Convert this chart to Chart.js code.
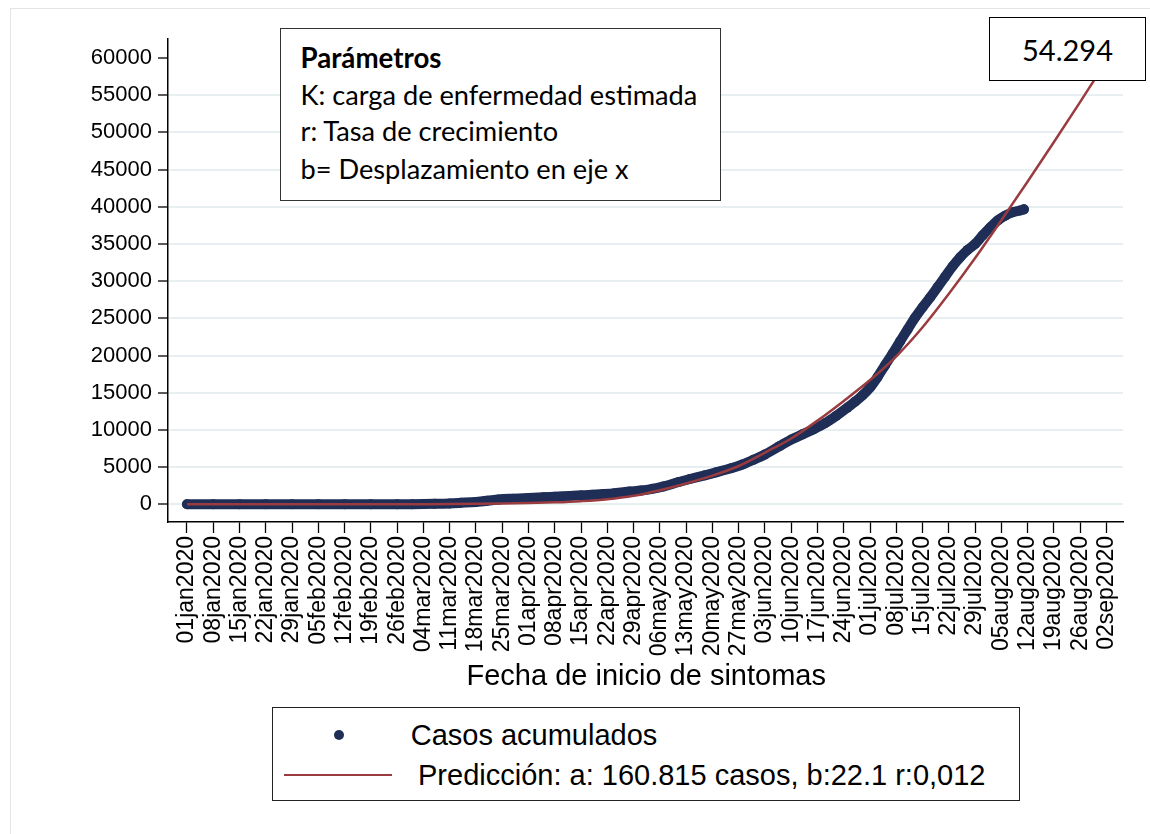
<!DOCTYPE html>
<html>
<head>
<meta charset="utf-8">
<script src="https://cdn.jsdelivr.net/npm/chart.js@4.4.0/dist/chart.umd.min.js"></script>
<style>
  html, body { margin: 0; padding: 0; background: #fff; }
  #wrap { position: relative; width: 1150px; height: 834px; overflow: hidden; font-family: "Liberation Sans", Arial, sans-serif; color: #000; }
  #frame { position: absolute; left: 10px; top: 8px; width: 1200px; height: 900px; border: 1px solid #e4e4e4; }
  canvas { position: absolute; left: 0; top: 0; }
  .box { position: absolute; background: #fff; box-sizing: border-box; }
  .txt { position: absolute; white-space: nowrap; }
  #params { left: 280px; top: 28px; width: 441px; height: 173px; border: 1.5px solid #333; font-family: Lato, sans-serif; font-size: 25px; }
  #params .txt { left: 19.5px; line-height: 30px; }
  #label { left: 989px; top: 17px; width: 157px; height: 64px; border: 1.5px solid #000; font-family: Lato, sans-serif; font-size: 29px; display: flex; align-items: center; justify-content: center; }
  #legend { left: 271.5px; top: 707px; width: 748.5px; height: 93.5px; border: 1.5px solid #222; }
  .leg { font-size: 29px; line-height: 30px; }
  #xtitle { font-size: 29px; line-height: 30px; left: 466.5px; top: 660px; }
</style>
</head>
<body>
<div id="wrap">
  <div id="frame"></div>
  <canvas id="chart" width="1150" height="834"></canvas>
  <div class="box" id="params">
    <div class="txt" id="p0" style="top:13.8px;font-weight:bold;font-size:27px">Parámetros</div>
    <div class="txt" id="p1" style="top:50.5px">K: carga de enfermedad estimada</div>
    <div class="txt" id="p2" style="top:87.2px">r: Tasa de crecimiento</div>
    <div class="txt" id="p3" style="top:124.8px">b= Desplazamiento en eje x</div>
  </div>
  <div class="box" id="label">54.294</div>
  <div class="box" id="legend"></div>
  <div style="position:absolute;left:334px;top:729.5px;width:10px;height:10px;border-radius:50%;background:#1f2e57"></div>
  <div style="position:absolute;left:284px;top:773.7px;width:108px;height:2.6px;background:#9a3b3f"></div>
  <div class="txt leg" style="left:410.7px;top:720px">Casos acumulados</div>
  <div class="txt leg" style="left:418px;top:760px">Predicción: a: 160.815 casos, b:22.1 r:0,012</div>
  <div class="txt" id="xtitle">Fecha de inicio de sintomas</div>
</div>
<script>
// days counted from 01jan2020
const tickDays = [0, 7, 14, 21, 28, 35, 42, 49, 56, 63, 70, 77, 84, 91, 98, 105, 112, 119,
  126, 133, 140, 147, 154, 161, 168, 175, 182, 189, 196, 203, 210, 217, 224, 231, 238, 245];
const tickLabels = ['01jan2020', '08jan2020', '15jan2020', '22jan2020', '29jan2020', '05feb2020',
  '12feb2020', '19feb2020', '26feb2020', '04mar2020', '11mar2020', '18mar2020', '25mar2020',
  '01apr2020', '08apr2020', '15apr2020', '22apr2020', '29apr2020', '06may2020', '13may2020',
  '20may2020', '27may2020', '03jun2020', '10jun2020', '17jun2020', '24jun2020', '01jul2020',
  '08jul2020', '15jul2020', '22jul2020', '29jul2020', '05aug2020', '12aug2020', '19aug2020',
  '26aug2020', '02sep2020'];
const yTicks = [0, 5000, 10000, 15000, 20000, 25000, 30000, 35000, 40000, 45000, 50000, 55000, 60000];

// Casos acumulados (observed)
const caseDays = [0, 7, 14, 21, 28, 35, 42, 49, 56, 60, 63, 66, 70, 73, 77, 80, 83, 87, 91, 95,
  98, 102, 105, 108, 111, 114, 118, 121, 124, 127, 131, 134, 138, 141, 145, 148, 151, 154, 158,
  161, 164, 167, 170, 173, 176, 178, 180, 182, 184, 186, 188, 190, 192, 194, 196, 198, 200, 202,
  204, 206, 208, 210, 212, 214, 216, 218, 220, 222, 223];
const caseValues = [0, 0, 0, 0, 0, 0, 0, 0, 0, 10, 30, 60, 120, 200, 320, 470, 650, 760, 850, 940,
  1020, 1120, 1200, 1280, 1380, 1500, 1710, 1850, 2080, 2400, 3000, 3400, 3900, 4300, 4850, 5350,
  6000, 6700, 7850, 8700, 9400, 10100, 10900, 11900, 13000, 13800, 14650, 15700, 17100, 18700,
  20250, 21900, 23500, 25100, 26500, 27800, 29200, 30600, 32000, 33200, 34200, 35000, 36150,
  37200, 38150, 38800, 39250, 39500, 39650];

// Predicción
const predDays = [0, 7, 14, 21, 28, 35, 42, 49, 56, 63, 70, 77, 84, 91, 98, 105, 112, 119, 126,
  133, 140, 147, 154, 161, 168, 175, 182, 189, 196, 203, 210, 217, 224, 231, 238, 245];
const predValues = [0, 0, 0, 0, 0, 0, 0, 0, 5, 15, 30, 60, 100, 160, 260, 420, 680, 1150, 1900,
  2800, 3850, 5150, 6950, 8850, 11250, 13900, 16700, 19900, 23800, 28300, 33100, 38200, 43400,
  48700, 54100, 59600];

const BLUE = '#1f2e57';
const RED = '#9a3b3f';
const yFont = { family: '"Liberation Sans", Arial, sans-serif', size: 22 };
const xFont = { family: '"Liberation Sans", Arial, sans-serif', size: 23 };

// scale the annotation text so its width matches the original box layout
function fitWidth(el, target) {
  const size = parseFloat(getComputedStyle(el).fontSize);
  const w = el.getBoundingClientRect().width;
  if (w > 0) el.style.fontSize = (size * target / w).toFixed(2) + 'px';
}
fitWidth(document.getElementById('p0'), 141);
const p1 = document.getElementById('p1');
fitWidth(p1, 397);
['p2', 'p3'].forEach(id => { document.getElementById(id).style.fontSize = p1.style.fontSize; });

new Chart(document.getElementById('chart'), {
  type: 'line',
  data: {
    datasets: [{
      label: 'Casos acumulados',
      data: caseDays.map((d, i) => ({ x: d, y: caseValues[i] })),
      borderColor: BLUE,
      backgroundColor: BLUE,
      borderWidth: 10,
      borderCapStyle: 'round',
      borderJoinStyle: 'round',
      pointRadius: 5,
      pointHoverRadius: 5,
      pointBorderWidth: 0,
      cubicInterpolationMode: 'monotone',
      order: 2
    }, {
      label: 'Predicción',
      data: predDays.map((d, i) => ({ x: d, y: predValues[i] })),
      borderColor: RED,
      borderWidth: 2.5,
      pointRadius: 0,
      cubicInterpolationMode: 'monotone',
      order: 1
    }]
  },
  options: {
    responsive: false,
    animation: false,
    layout: { padding: { left: 0, right: 27, top: 39, bottom: 0 } },
    plugins: { legend: { display: false }, tooltip: { enabled: false } },
    scales: {
      x: {
        type: 'linear',
        min: -5.06,
        max: 249.4,
        afterFit: s => { s.height = 312; },
        afterBuildTicks: s => { s.ticks = tickDays.map(v => ({ value: v })); },
        ticks: {
          autoSkip: false,
          minRotation: 90,
          maxRotation: 90,
          padding: 3,
          color: '#000',
          font: xFont,
          callback: (v, i) => tickLabels[i]
        },
        grid: { drawOnChartArea: false, tickLength: 11, tickColor: '#000', tickWidth: 1.3 },
        border: { color: '#000', width: 1.5 }
      },
      y: {
        min: -2380,
        max: 62550,
        afterFit: s => { s.width = 168; },
        afterBuildTicks: s => { s.ticks = yTicks.map(v => ({ value: v })); },
        ticks: { padding: 6, color: '#000', font: yFont, callback: v => String(v) },
        grid: {
          color: c => (c.tick && c.tick.value === 60000) ? 'rgba(0,0,0,0)' : '#e8eff1',
          lineWidth: 2,
          tickLength: 10,
          tickColor: '#000',
          tickWidth: 1.3
        },
        border: { color: '#000', width: 1.5 }
      }
    }
  }
});
</script>
</body>
</html>
